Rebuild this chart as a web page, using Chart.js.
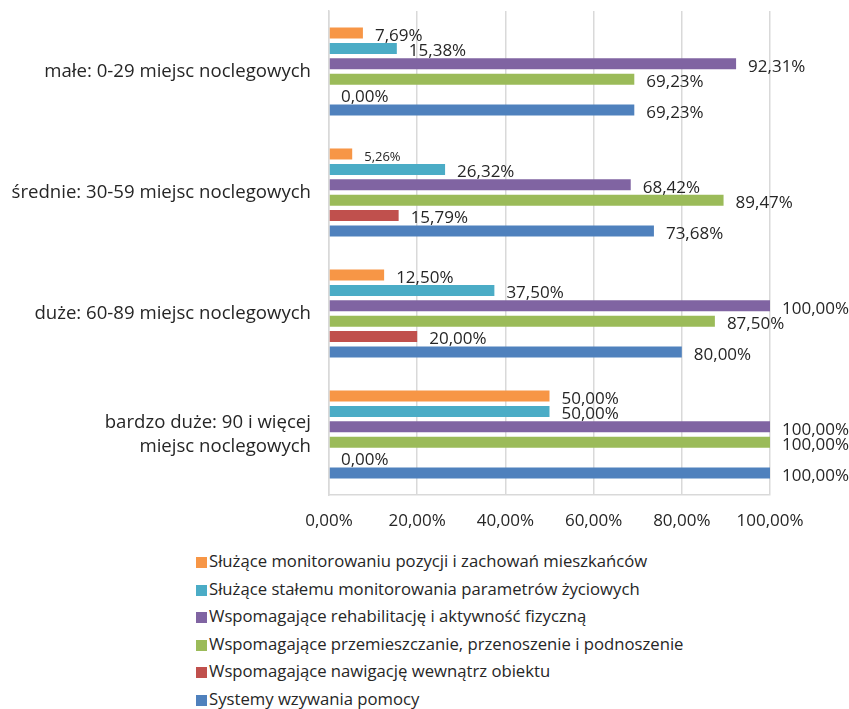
<!DOCTYPE html>
<html>
<head>
<meta charset="utf-8">
<script src="https://cdn.jsdelivr.net/npm/chart.js@4"></script>
<style>
  html, body { margin: 0; padding: 0; background: #fff; }
  #wrap { position: relative; width: 849px; height: 709px; }
  #chart { position: absolute; left: 0; top: 0; }
  #legend { position: absolute; left: 196px; top: 547px; font-family: "Open Sans", sans-serif; font-size: 16.7px; color: #262626; }
  #legend div { height: 27.5px; line-height: 27.5px; white-space: nowrap; }
  #legend span { display: inline-block; width: 11px; height: 11px; margin-right: 2px; vertical-align: -1px; }
</style>
</head>
<body>
<div id="wrap">
  <canvas id="chart" width="849" height="545"></canvas>
  <div id="legend"></div>
</div>
<script>
const categories = [
  'małe: 0-29 miejsc noclegowych',
  'średnie: 30-59 miejsc noclegowych',
  'duże: 60-89 miejsc noclegowych',
  ['bardzo duże: 90 i więcej', 'miejsc noclegowych'],
];

const seriesNames = [
  'Służące monitorowaniu pozycji i zachowań mieszkańców',
  'Służące stałemu monitorowania parametrów życiowych',
  'Wspomagające rehabilitację i aktywność fizyczną',
  'Wspomagające przemieszczanie, przenoszenie i podnoszenie',
  'Wspomagające nawigację wewnątrz obiektu',
  'Systemy wzywania pomocy',
];

const monitorowaniePozycji = [7.69, 5.26, 12.50, 50.00];
const monitorowanieParametrow = [15.38, 26.32, 37.50, 50.00];
const rehabilitacja = [92.31, 68.42, 100.00, 100.00];
const przemieszczanie = [69.23, 89.47, 87.50, 100.00];
const nawigacja = [0.00, 15.79, 20.00, 0.00];
const wzywaniePomocy = [69.23, 73.68, 80.00, 100.00];

const xTicks = [0, 20, 40, 60, 80, 100];

const colors = ['#F79646', '#4BACC6', '#8064A2', '#9BBB59', '#C0504D', '#4F81BD'];

const fmt = v => v.toFixed(2).replace('.', ',') + '%';

// bar value labels, drawn just past the end of each bar
const valueLabels = {
  id: 'valueLabels',
  afterDatasetsDraw(chart) {
    const ctx = chart.ctx;
    ctx.save();
    ctx.fillStyle = '#262626';
    ctx.textBaseline = 'middle';
    ctx.textAlign = 'left';
    chart.data.datasets.forEach((ds, i) => {
      chart.getDatasetMeta(i).data.forEach((bar, j) => {
        // the one small label in the source
        const small = (i === 0 && j === 1);
        ctx.font = (small ? '13px' : '17px') + ' "Open Sans", sans-serif';
        ctx.fillText(fmt(ds.data[j]), bar.x + 12, bar.y + 3);
      });
    });
    ctx.restore();
  }
};

const datasets = [monitorowaniePozycji, monitorowanieParametrow, rehabilitacja,
  przemieszczanie, nawigacja, wzywaniePomocy].map((d, i) => ({
  label: seriesNames[i],
  data: d,
  backgroundColor: colors[i],
  categoryPercentage: 0.764,
  barPercentage: 0.714,
}));

const chart = new Chart(document.getElementById('chart'), {
  type: 'bar',
  data: { labels: categories, datasets },
  options: {
    indexAxis: 'y',
    responsive: false,
    animation: false,
    layout: { padding: { top: 11, right: 79, bottom: 0, left: 0 } },
    plugins: {
      legend: { display: false },
      tooltip: { enabled: false },
    },
    scales: {
      x: {
        min: 0,
        max: 100,
        afterBuildTicks: s => { s.ticks = xTicks.map(v => ({ value: v })); },
        afterFit: s => { s.height = 50; s.paddingLeft = 0; s.paddingRight = 0; },
        grid: { color: '#D9D9D9', lineWidth: 1.5, drawTicks: false },
        border: { display: true, color: '#D9D9D9', width: 1.5 },
        ticks: {
          padding: 16,
          color: '#262626',
          font: { family: 'Open Sans', size: 17 },
          callback: v => fmt(v),
        },
      },
      y: {
        afterFit: s => { s.width = 329; s.paddingTop = 0; s.paddingBottom = 0; },
        grid: { display: false, drawTicks: false },
        border: { display: true, color: '#D9D9D9', width: 1.5 },
        ticks: {
          padding: 18,
          color: '#262626',
          font: { family: 'Open Sans', size: 18.6, lineHeight: 1.3 },
        },
      },
    },
  },
  plugins: [valueLabels],
});

// legend as a vertical list below the chart
const legend = document.getElementById('legend');
chart.data.datasets.forEach(ds => {
  const row = document.createElement('div');
  const box = document.createElement('span');
  box.style.background = ds.backgroundColor;
  row.appendChild(box);
  row.appendChild(document.createTextNode(ds.label));
  legend.appendChild(row);
});
</script>
</body>
</html>
